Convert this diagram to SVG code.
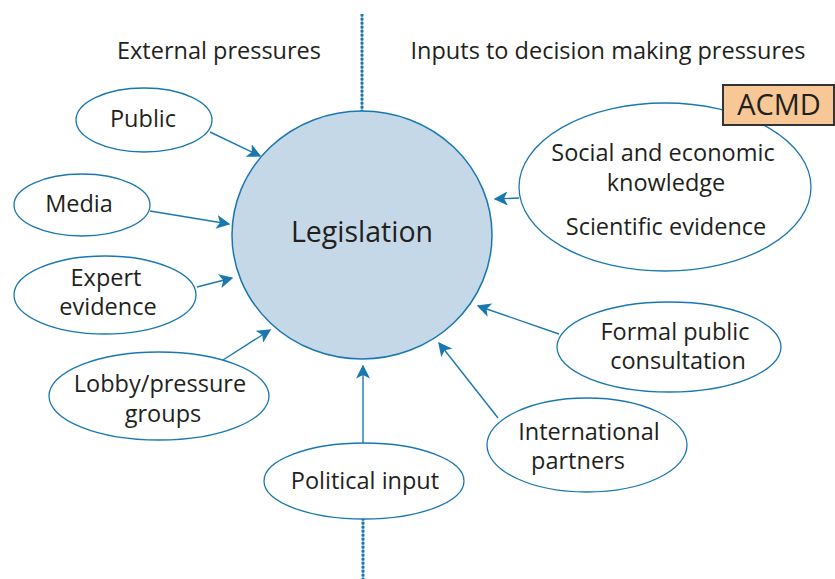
<svg xmlns="http://www.w3.org/2000/svg" width="835" height="579" viewBox="0 0 835 579">
<style>
text{font-family:"Open Sans","Noto Sans",sans-serif;fill:#231f20;text-anchor:middle}
.n{fill:#fff;stroke:#1a78b0;stroke-width:1.3}
.t{font-size:23.5px}
.c{stroke:#1a78b0;stroke-width:1.4;fill:none;marker-end:url(#ah)}
.dl{stroke:#1a78b0;stroke-width:1}
.dd{stroke:#1a78b0;stroke-width:3;stroke-dasharray:2.5 1.5}
</style>
<defs>
<marker id="ah" viewBox="0 0 10 10" refX="9" refY="5" markerWidth="14" markerHeight="14" markerUnits="userSpaceOnUse" orient="auto">
<path d="M0,0 L10,5 L0,10 L2.5,5 Z" fill="#1a78b0"/>
</marker>
</defs>
<rect width="835" height="579" fill="#fff"/>
<g id="axis">
<line class="dl" x1="362" y1="14" x2="362" y2="112"/>
<line class="dd" x1="362" y1="14" x2="362" y2="112"/>
<line class="dl" x1="363" y1="518" x2="363" y2="579"/>
<line class="dd" x1="363" y1="518" x2="363" y2="579"/>
</g>
<g id="titles">
<text class="t" x="219" y="59">External pressures</text>
<text class="t" x="608" y="59">Inputs to decision making pressures</text>
</g>
<g id="legislation">
<ellipse cx="362" cy="235" rx="130" ry="124" fill="#c5d8e7" stroke="#1a78b0" stroke-width="1.5"/>
<text x="362" y="242" style="font-size:28.5px">Legislation</text>
</g>
<g id="public">
<ellipse class="n" cx="144" cy="120" rx="68" ry="32"/>
<text class="t" x="143" y="127">Public</text>
</g>
<g id="media">
<ellipse class="n" cx="82" cy="205" rx="68" ry="31"/>
<text class="t" x="79" y="212">Media</text>
</g>
<g id="expert">
<ellipse class="n" cx="105" cy="295" rx="91" ry="39"/>
<text class="t" x="106" y="286">Expert</text>
<text class="t" x="108" y="315">evidence</text>
</g>
<g id="lobby">
<ellipse class="n" cx="159" cy="396" rx="110" ry="44"/>
<text class="t" x="160" y="392">Lobby/pressure</text>
<text class="t" x="163" y="422">groups</text>
</g>
<g id="political">
<ellipse class="n" cx="364" cy="481" rx="100" ry="38"/>
<text class="t" x="365" y="489">Political input</text>
</g>
<g id="international">
<ellipse class="n" cx="587" cy="445" rx="100" ry="47"/>
<text class="t" x="589" y="440">International</text>
<text class="t" x="578" y="469">partners</text>
</g>
<g id="formal">
<ellipse class="n" cx="669" cy="347" rx="112" ry="45"/>
<text class="t" x="675" y="340">Formal public</text>
<text class="t" x="678" y="369">consultation</text>
</g>
<g id="knowledge">
<ellipse class="n" cx="665" cy="187" rx="146" ry="84"/>
<text class="t" x="663" y="161">Social and economic</text>
<text class="t" x="666" y="191">knowledge</text>
<text class="t" x="666" y="235">Scientific evidence</text>
</g>
<g id="acmd">
<rect x="723" y="85" width="111" height="40" fill="#f7c896" stroke="#333" stroke-width="2"/>
<text x="779" y="115" style="font-size:29px">ACMD</text>
</g>
<g id="connectors">
<line class="c" x1="210" y1="132" x2="260" y2="156"/>
<line class="c" x1="150" y1="211" x2="229" y2="224"/>
<line class="c" x1="197" y1="287" x2="232" y2="278"/>
<line class="c" x1="223" y1="360" x2="270" y2="330"/>
<line class="c" x1="363" y1="443" x2="363" y2="366"/>
<line class="c" x1="498" y1="418" x2="439" y2="343"/>
<line class="c" x1="559" y1="334" x2="478" y2="306"/>
<line class="c" x1="519" y1="198" x2="495" y2="199"/>
</g>
</svg>
